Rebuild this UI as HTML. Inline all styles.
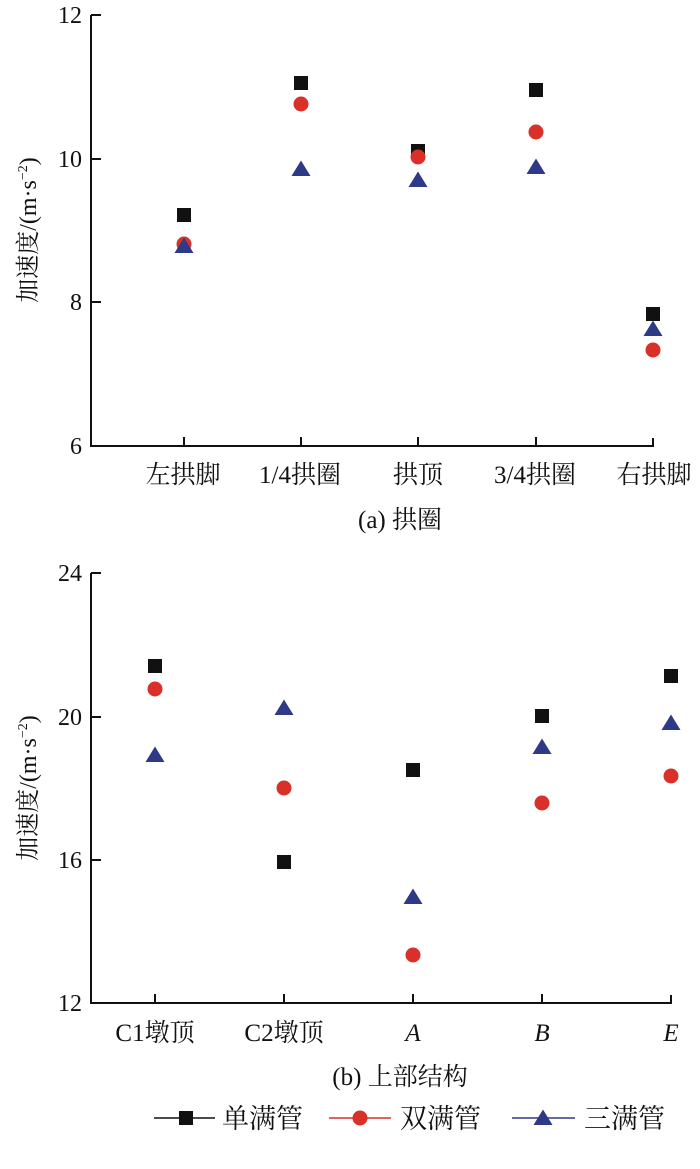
<!DOCTYPE html>
<html><head><meta charset="utf-8"><style>
body{margin:0;background:#fff}
svg text{font-family:"Liberation Serif","Noto Serif CJK SC",serif;fill:#111}
</style></head><body>
<svg width="700" height="1164" viewBox="0 0 700 1164" xmlns="http://www.w3.org/2000/svg">
<defs>
<g id="sq"><rect x="-7" y="-7" width="14" height="14" fill="#111"/></g>
<g id="ci"><circle r="7.5" fill="#d9302a"/></g>
<g id="tr"><polygon points="0,-8.5 9.5,7 -9.5,7" fill="#2e3a88"/></g>
</defs>
<g stroke="#111" stroke-width="2" fill="none">
<path d="M91,15 H101 M91,15 V446 H653 V438"/>
<path d="M91,159 H101 M91,302 H101"/>
<path d="M184,446 V437 M301,446 V437 M418,446 V437 M536,446 V437"/>
<path d="M91,573 H101 M91,573 V1003 H671 V995"/>
<path d="M91,717 H101 M91,860 H101"/>
<path d="M155,1003 V994 M284,1003 V994 M413,1003 V994 M542,1003 V994"/>
</g>
<g font-size="24" text-anchor="end">
<text x="82" y="23">12</text><text x="82" y="167">10</text><text x="82" y="310">8</text><text x="82" y="454">6</text>
<text x="82" y="581">24</text><text x="82" y="725">20</text><text x="82" y="868">16</text><text x="82" y="1011">12</text>
</g>
<g font-size="25" text-anchor="middle">
<text x="183" y="483">左拱脚</text><text x="300" y="483">1/4拱圈</text><text x="418" y="483">拱顶</text><text x="535" y="483">3/4拱圈</text><text x="654" y="483">右拱脚</text>
<text x="400" y="528">(a) 拱圈</text>
<text x="155" y="1041">C1墩顶</text><text x="284" y="1041">C2墩顶</text>
<text x="413" y="1041" font-style="italic">A</text><text x="542" y="1041" font-style="italic">B</text><text x="671" y="1041" font-style="italic">E</text>
<text x="400" y="1085">(b) 上部结构</text>
</g>
<text font-size="24" text-anchor="middle" transform="translate(36,230) rotate(-90)">加速度/(m·s<tspan font-size="14" dy="-9">−2</tspan><tspan dy="9">)</tspan></text>
<text font-size="24" text-anchor="middle" transform="translate(36,788) rotate(-90)">加速度/(m·s<tspan font-size="14" dy="-9">−2</tspan><tspan dy="9">)</tspan></text>
<use href="#sq" x="184" y="215"/><use href="#ci" x="184" y="244"/><use href="#tr" x="184" y="246"/>
<use href="#sq" x="301" y="83"/><use href="#ci" x="301" y="104"/><use href="#tr" x="301" y="169"/>
<use href="#sq" x="418" y="151"/><use href="#ci" x="418" y="157"/><use href="#tr" x="418" y="180"/>
<use href="#sq" x="536" y="90"/><use href="#ci" x="536" y="132"/><use href="#tr" x="536" y="167"/>
<use href="#sq" x="653" y="314"/><use href="#ci" x="653" y="350"/><use href="#tr" x="653" y="329"/>
<use href="#sq" x="155" y="666"/><use href="#ci" x="155" y="689"/><use href="#tr" x="155" y="755"/>
<use href="#sq" x="284" y="862"/><use href="#ci" x="284" y="788"/><use href="#tr" x="284" y="708"/>
<use href="#sq" x="413" y="770"/><use href="#ci" x="413" y="955"/><use href="#tr" x="413" y="897"/>
<use href="#sq" x="542" y="716"/><use href="#ci" x="542" y="803"/><use href="#tr" x="542" y="747"/>
<use href="#sq" x="671" y="676"/><use href="#ci" x="671" y="776"/><use href="#tr" x="671" y="723"/>
<line x1="154" y1="1118" x2="215" y2="1118" stroke="#111" stroke-width="1.5"/><use href="#sq" x="186" y="1118"/>
<line x1="329" y1="1118" x2="391" y2="1118" stroke="#d9302a" stroke-width="1.5"/><use href="#ci" x="360" y="1118"/>
<line x1="512" y1="1118" x2="575" y2="1118" stroke="#2e3a88" stroke-width="1.5"/><use href="#tr" x="543" y="1118"/>
<g font-size="27"><text x="222" y="1128">单满管</text><text x="400" y="1128">双满管</text><text x="584" y="1128">三满管</text></g>
</svg>
</body></html>
